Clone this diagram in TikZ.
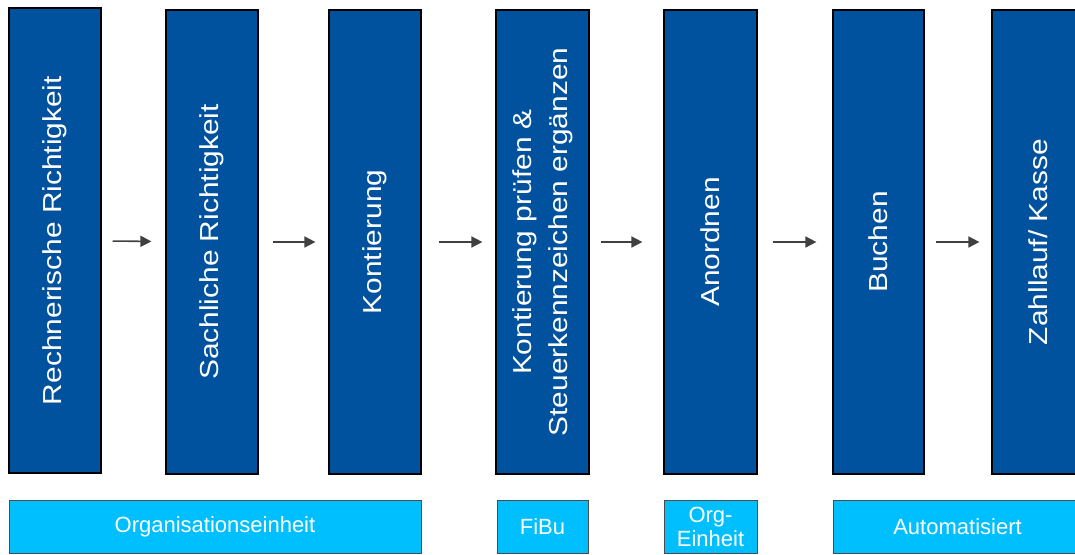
\documentclass[tikz,border=0pt]{standalone}
\usepackage{fontspec}
\setmainfont{Liberation Sans}
\usetikzlibrary{arrows.meta}
\definecolor{stepblue}{RGB}{0,81,158}
\definecolor{unitblue}{RGB}{0,191,255}
\definecolor{arrowgray}{RGB}{64,64,64}
\newcommand{\vlabel}[1]{\rotatebox{90}{\scalebox{1.15}[1]{#1}}}

\begin{document}
\begin{tikzpicture}[%
x=1pt, y=-1pt,
stepbox/.style={draw=black, line width=1.2pt, fill=stepblue, text=white, inner sep=0pt,
  minimum width=92pt, minimum height=464pt, font=\fontsize{26}{36}\selectfont},
unitbox/.style={draw=black!70, line width=0.8pt, fill=unitblue, text=white, inner sep=0pt,
  minimum height=53pt, align=center, font=\fontsize{22}{24}\selectfont},
flow/.style={draw=arrowgray, line width=1.6pt, -{Triangle[length=11pt, width=11pt]}},
]
\useasboundingbox (0,0) rectangle (1075,554);
\clip (0,0) rectangle (1075,554);
%% steps;
\node[stepbox, minimum height=465pt] (r1) at (55,240.5) {\vlabel{Rechnerische Richtigkeit}};
\node[stepbox] (r2) at (212,242) {\vlabel{Sachliche Richtigkeit}};
\node[stepbox] (r3) at (375,242) {\vlabel{Kontierung}};
\node[stepbox, minimum width=93pt] (r4) at (542.5,242) {\vlabel{\begin{tabular}{@{}c@{}}Kontierung prüfen \&\\Steuerkennzeichen ergänzen\end{tabular}}};
\node[stepbox, minimum width=93pt] (r5) at (710.5,242) {\vlabel{Anordnen}};
\node[stepbox, minimum width=91pt] (r6) at (878.5,242) {\vlabel{Buchen}};
\node[stepbox] (r7) at (1038,242) {\vlabel{Zahllauf/ Kasse}};
%% arrows;
\foreach \a/\b/\s/\e in {r1/r2/11/14, r2/r3/14/13, r3/r4/17/13, r4/r5/11/21, r5/r6/15/16, r6/r7/11/12}
  \draw[flow, shorten <=\s pt, shorten >=\e pt] (\a) -- (\b);
%% units;
\node[unitbox, minimum width=412pt] (u1) at (215,526.5) {Organisationseinheit};
\node[unitbox, minimum width=91pt] (u2) at (542.5,526.5) {FiBu};
\node[unitbox, minimum width=93pt] (u3) at (710.5,526.5) {Org-\\Einheit};
\node[unitbox, minimum width=249pt] (u4) at (957.5,526.5) {Automatisiert};
\end{tikzpicture}
\end{document}
